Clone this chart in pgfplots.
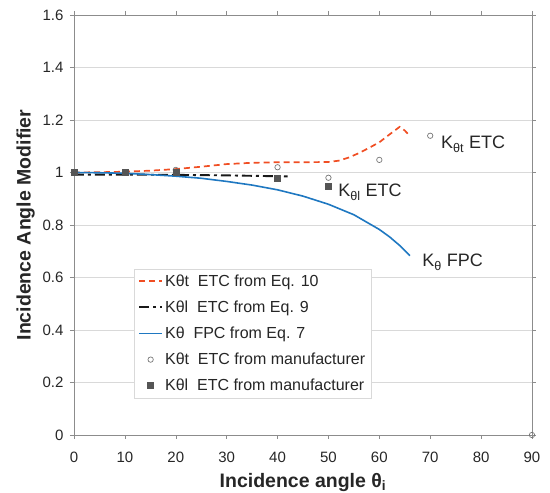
\documentclass[border=0pt]{standalone}
\usepackage{pgfplots}
\pgfplotsset{compat=1.18}
\usepackage{fontspec}
\setmainfont{Liberation Sans}

\definecolor{etcred}{HTML}{F04E23}
\definecolor{fpcblue}{HTML}{1F78C1}
\definecolor{mangray}{HTML}{555555}
\definecolor{axgray}{HTML}{8C8C8C}
\definecolor{gridgray}{HTML}{D9D9D9}

\begin{document}
\begin{tikzpicture}
\useasboundingbox (-74pt,-58pt) rectangle (476pt,435pt);
\begin{axis}[
  scale only axis,
  width=458pt, height=420pt,
  xmin=0, xmax=90, ymin=0, ymax=1.6,
  xtick={0,10,...,90},
  ytick={0,0.2,...,1.6},
  yticklabel style={/pgf/number format/fixed,/pgf/number format/precision=1, xshift=-3pt},
  xticklabel style={yshift=-9pt},
  /pgf/number format/assume math mode=true,
  ticklabel style={font=\fontsize{15}{17}\selectfont, text=black!85},
  tick style={axgray, thin},
  tick align=outside,
  major tick length=4pt,
  axis line style={axgray, semithick},
  ymajorgrids,
  grid style={gridgray, thin},
  xlabel={\bfseries Incidence angle θ\textsubscript{i}},
  ylabel={\bfseries Incidence Angle Modifier},
  label style={font=\fontsize{19.5}{21}\selectfont, text=black!85},
  xlabel style={yshift=-4pt},
  ylabel style={yshift=1pt},
  legend cell align=left,
  legend style={
    at={(rel axis cs:0.131,0.395)}, anchor=north west,
    draw=gridgray, fill=white,
    font=\fontsize{16}{18}\selectfont, text=black!85,
    row sep=9pt, inner xsep=4pt, inner ysep=3.5pt,
    /tikz/every even column/.append style={column sep=2pt},
  },
  legend image code/.code={
    \draw[mark repeat=2,mark phase=2,#1]
      plot coordinates {(0pt,0pt) (11.5pt,0pt) (23pt,0pt)};
  },
  clip=false,
]
% K_theta_t for the evacuated tube collector, Eq. 10
\addplot[etcred, line width=1.7pt, dash pattern=on 6pt off 4pt] coordinates {
  (0,1.000) (5,1.001) (10,1.003) (15,1.007) (20,1.013) (25,1.022)
  (30,1.032) (35,1.037) (40,1.039) (45,1.039) (50,1.040) (52,1.045)
  (54,1.057) (56,1.074) (58,1.094) (60,1.115) (62,1.145) (64,1.174)
  (65,1.160) (66,1.139)
};
\addlegendentry{Kθt\ \ ETC from Eq. 10}
% K_theta_l for the evacuated tube collector, Eq. 9
\addplot[black!90, line width=1.9pt, dash pattern=on 10pt off 4pt on 3pt off 4pt] coordinates {
  (0,0.992) (10,0.992) (20,0.991) (30,0.989) (36,0.987) (42,0.985)
};
\addlegendentry{Kθl\ \ ETC from Eq. 9}
% K_theta for the flat plate collector, Eq. 7
\addplot[fpcblue, line width=1.6pt] coordinates {
  (0,1.000) (5,0.999) (10,0.997) (15,0.992) (20,0.986) (25,0.978)
  (30,0.966) (35,0.952) (40,0.934) (45,0.910) (50,0.879) (55,0.839)
  (60,0.783) (62,0.755) (64,0.722) (66,0.683)
};
\addlegendentry{Kθ\ \ FPC from Eq. 7}
% manufacturer data
\addplot[only marks, mark=o, mark size=2.7pt, draw=mangray!80, line width=0.7pt] coordinates {
  (0,1.000) (10,1.000) (20,1.010) (40,1.020) (50,0.980) (60,1.048)
  (70,1.140) (90,0.000)
};
\addlegendentry{Kθt\ \ ETC from manufacturer}
\addplot[only marks, mark=square*, mark size=3pt, color=mangray] coordinates {
  (0,1.000) (10,1.000) (20,1.000) (40,0.978) (50,0.949)
};
\addlegendentry{Kθl\ \ ETC from manufacturer}

\node[anchor=base west, inner sep=0pt, font=\fontsize{18}{20}\selectfont, text=black!85]
  at (axis cs:72.1,1.090) {K\textsubscript{θt} ETC};
\node[anchor=base west, inner sep=0pt, font=\fontsize{18}{20}\selectfont, text=black!85]
  at (axis cs:51.9,0.907) {K\textsubscript{θl} ETC};
\node[anchor=base west, inner sep=0pt, font=\fontsize{18}{20}\selectfont, text=black!85]
  at (axis cs:68.4,0.640) {K\textsubscript{θ} FPC};
\end{axis}
\end{tikzpicture}
\end{document}
